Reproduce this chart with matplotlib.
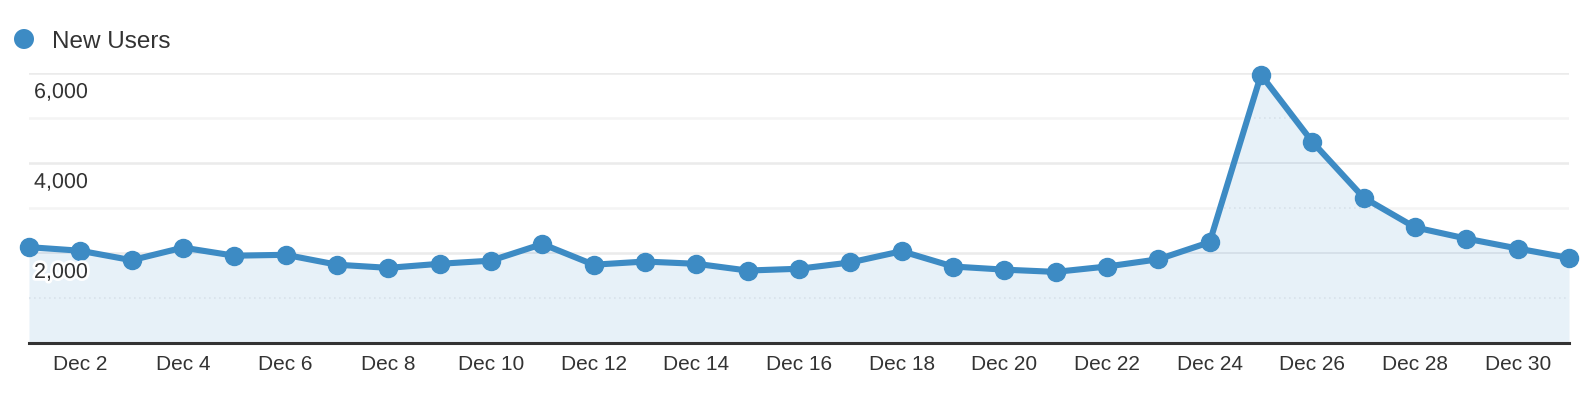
import matplotlib
matplotlib.use("Agg")
import matplotlib.pyplot as plt
import matplotlib.patheffects as pe
from matplotlib.patches import Ellipse
import numpy as np

days = list(range(1, 32))
new_users = [2130, 2050, 1840, 2120, 1940, 1960, 1740, 1670, 1760, 1830,
             2200, 1740, 1810, 1760, 1610, 1650, 1790, 2040, 1700, 1630,
             1580, 1700, 1860, 2240, 5960, 4470, 3230, 2570, 2320, 2100, 1890]
tick_days = list(range(2, 31, 2))
tick_labels = [f"Dec {d}" for d in tick_days]
y_label_vals = [2000, 4000, 6000]
series_name = "New Users"

LINE = "#3d8bc4"
FILL = "#e7f1f8"
TEXT = "#333333"
plt.rcParams['font.family'] = ['Liberation Sans', 'DejaVu Sans']

W, H = 1596, 394
fig = plt.figure(figsize=(W / 100, H / 100), dpi=100)
left, right, bottom, top = 29, 1569, 343, 73
ax = fig.add_axes([left / W, 1 - bottom / H, (right - left) / W, (bottom - top) / H])
ax.set_xlim(days[0], days[-1])
ax.set_ylim(0, 6000)

# gridlines
for v in range(1000, 6001, 1000):
    major = v % 2000 == 0
    ax.axhline(v, color="#ebebeb" if major else "#f4f4f4", lw=1.8, zorder=0)

area = ax.fill_between(days, new_users, 0, color=FILL, zorder=1, lw=0)
clip_path = area.get_paths()[0]
for v in range(1000, 6001, 1000):
    ln = ax.axhline(v, color="#d3dde6" if v % 2000 == 0 else "#d8e2ea",
                    lw=1.2, ls=(0, (1, 2)) if v % 2000 else "-", zorder=1.5)
    ln.set_clip_path(clip_path, ax.transData)
ax.plot(days, new_users, color=LINE, lw=4.4, marker="o", ms=13,
        zorder=3, clip_on=False, solid_joinstyle="round")

for s in ["top", "right", "left"]:
    ax.spines[s].set_visible(False)
ax.spines["bottom"].set_color("#333333")
ax.spines["bottom"].set_linewidth(2.2)
ax.spines["bottom"].set_zorder(4)

ax.set_yticks([])
ax.set_xticks(tick_days)
ax.set_xticklabels(tick_labels, fontsize=15, color=TEXT)
ax.tick_params(axis="x", length=0, pad=9)

for v in y_label_vals:
    ax.annotate(f"{v:,}", xy=(0, v), xycoords=("axes fraction", "data"),
                xytext=(5, -9), textcoords="offset pixels", ha="left", va="top",
                fontsize=15.5, color=TEXT, zorder=5,
                path_effects=[pe.withStroke(linewidth=4, foreground="white")])

# legend
fig.patches.append(Ellipse((24 / W, 1 - 39 / H), 20 / W, 20 / H,
                           transform=fig.transFigure, color=LINE, lw=0))
fig.text(52 / W, 1 - 40 / H, series_name, color=TEXT, fontsize=17.5,
         ha="left", va="center_baseline")

fig.savefig("out.png", dpi=100)
